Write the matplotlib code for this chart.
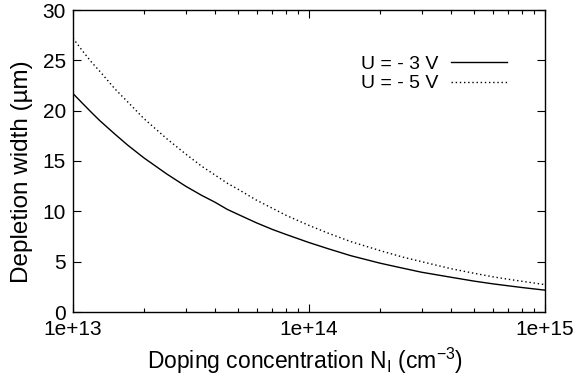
import matplotlib
matplotlib.use("Agg")
import matplotlib.pyplot as plt
from matplotlib.ticker import LogLocator, NullFormatter, FixedLocator

plt.rcParams["font.family"] = ["Liberation Sans", "DejaVu Sans"]
plt.rcParams["mathtext.fontset"] = "custom"
plt.rcParams["mathtext.rm"] = "Liberation Sans"

# values
doping = [1e13, 1.1e13, 1.2e13, 1.3e13, 1.5e13, 1.7e13, 2e13, 2.5e13,
          3e13, 3.5e13, 4e13, 4.5e13, 5e13, 6e13, 7e13, 8e13,
          1e14, 1.2e14, 1.5e14, 2e14, 2.5e14, 3e14, 4e14, 5e14,
          6e14, 7e14, 8e14, 1e15]
width_3v = [21.7, 20.7, 19.8, 19.0, 17.7, 16.6, 15.3, 13.7,
            12.5, 11.6, 10.9, 10.2, 9.7, 8.85, 8.2, 7.7,
            6.9, 6.3, 5.6, 4.85, 4.35, 3.95, 3.45, 3.07,
            2.8, 2.6, 2.43, 2.17]
width_5v = [27.2, 25.9, 24.8, 23.9, 22.2, 20.9, 19.2, 17.2,
            15.7, 14.5, 13.6, 12.8, 12.2, 11.1, 10.3, 9.6,
            8.6, 7.85, 7.0, 6.1, 5.45, 5.0, 4.3, 3.85,
            3.5, 3.25, 3.05, 2.72]
x_ticks = [1e13, 1e14, 1e15]
x_tick_labels = ["1e+13", "1e+14", "1e+15"]
y_ticks = [0, 5, 10, 15, 20, 25, 30]

fig = plt.figure(figsize=(5.8, 3.8), dpi=100)
ax = fig.add_axes([73 / 580, 1 - 312 / 380, (545 - 73) / 580, (312 - 10) / 380])

ax.plot(doping, width_3v, color="black", lw=1.0, label="U = - 3 V")
ax.plot(doping, width_5v, color="black", lw=1.0, linestyle=(0, (1, 2)),
        label="U = - 5 V")

ax.set_xscale("log")
ax.set_xlim(1e13, 1e15)
ax.set_ylim(0, 30)
ax.xaxis.set_major_locator(FixedLocator(x_ticks))
ax.set_xticklabels(x_tick_labels)
ax.xaxis.set_minor_locator(LogLocator(base=10, subs=range(2, 10)))
ax.xaxis.set_minor_formatter(NullFormatter())
ax.set_yticks(y_ticks)

ax.tick_params(which="both", direction="in", top=True, right=True,
               labelsize=15, color="black")
ax.tick_params(which="major", length=6, width=0.8)
ax.tick_params(axis="x", which="major", pad=6)
ax.tick_params(axis="y", which="major", pad=5)
ax.tick_params(which="minor", length=3, width=0.8)
for spine in ax.spines.values():
    spine.set_linewidth(1.0)

ax.set_xlabel(r"Doping concentration N$_\mathregular{I}$ (cm$^\mathregular{-3}$)",
              fontsize=16.5)
ax.set_ylabel("Depletion width (µm)", fontsize=17.5)
ax.xaxis.set_label_coords(0.492, -0.112)
ax.yaxis.set_label_coords(-0.085, 0.465)

ax.legend(loc="upper right", bbox_to_anchor=(0.92, 0.85), frameon=False,
          markerfirst=False, fontsize=14, handlelength=2.9,
          handletextpad=0.65, labelspacing=0.1, borderpad=0, borderaxespad=0)

fig.savefig("out.png", dpi=100)
